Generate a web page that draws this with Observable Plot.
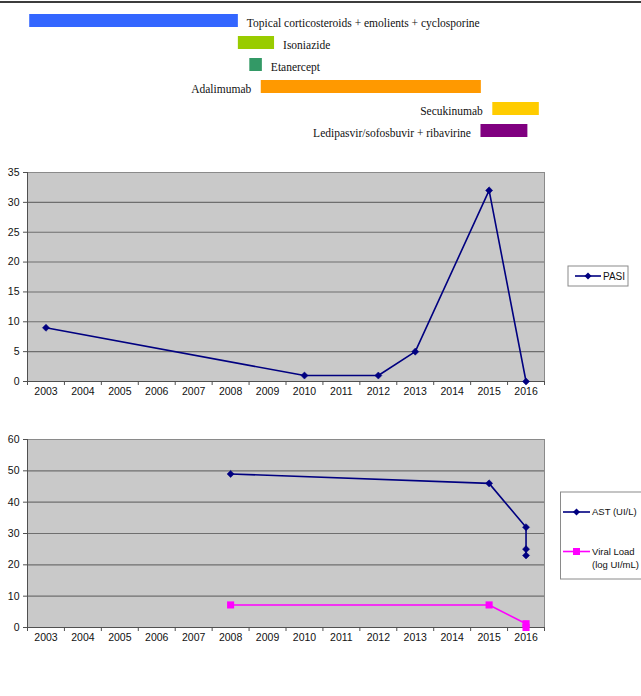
<!DOCTYPE html>
<html><head><meta charset="utf-8">
<script src="https://cdn.jsdelivr.net/npm/d3@7"></script>
<script src="https://cdn.jsdelivr.net/npm/@observablehq/plot@0.6"></script>
<style>
body{margin:0;background:#fff;width:641px;overflow:hidden}
#rule{height:0;border-top:2px solid #3c3c3c;margin-top:1px}
svg{display:block}
</style></head><body>
<div id="rule"></div>
<div id="timeline"></div>
<div id="pasi"></div>
<div id="labs"></div>
<script>
// ---- data ----
const years = [2003,2004,2005,2006,2007,2008,2009,2010,2011,2012,2013,2014,2015,2016];

const treatments = ["Topical corticosteroids + emolients + cyclosporine","Isoniazide","Etanercept","Adalimumab","Secukinumab","Ledipasvir/sofosbuvir + ribavirine"];
const treatStart = [2002.56, 2008.21, 2008.52, 2008.83, 2015.10, 2014.78];
const treatEnd   = [2008.21, 2009.19, 2008.86, 2014.79, 2016.36, 2016.05];
const treatColors = ["#3366ff","#99cc00","#339966","#ff9900","#ffcc00","#800080"];
const labelSide = ["right","right","right","left","left","left"];

const pasiYears  = [2003,2010,2012,2013,2015,2016];
const pasiValues = [9,1,1,5,32,0];
const pasiTicks  = [0,5,10,15,20,25,30,35];

const astYears  = [2008,2015,2016,2016,2016];
const astValues = [49,46,32,25,23];
const vlYears   = [2008,2015,2016,2016];
const vlValues  = [7.2,7.2,1.2,0];
const labTicks  = [0,10,20,30,40,50,60];

// ---- helpers ----
const SANS = "Liberation Sans, Arial, Helvetica, sans-serif";
const SERIF = "Liberation Serif, Times New Roman, serif";
const NAVY = "#000080", MAGENTA = "#ff00ff";
const xDomain = [years[0] - 0.5, years[years.length - 1] + 0.5];
const boundaries = [...years.map(y => y - 0.5), years[years.length - 1] + 0.5];
const common = {width: 641, marginLeft: 27, marginRight: 97,
  style: {fontFamily: SANS, fontSize: "10.5px", color: "#111", background: "white", overflow: "visible"}};

// ---- timeline ----
const tl = treatments.map((name, i) => ({name, start: treatStart[i], end: treatEnd[i], color: treatColors[i], side: labelSide[i]}));
const timeline = Plot.plot({
  ...common, height: 147, marginTop: 0, marginBottom: 0,
  x: {domain: xDomain, axis: null},
  y: {domain: treatments, range: [-0.8, 145.8], padding: 0.43, axis: null},
  color: {type: "identity"},
  marks: [
    Plot.barX(tl, {x1: "start", x2: "end", y: "name", fill: "color"}),
    Plot.text(tl.filter(d => d.side === "right"), {x: "end", y: "name", text: "name", textAnchor: "start", dx: 8.5, dy: 2.5, fontFamily: SERIF, fontSize: 11.5, fill: "#111"}),
    Plot.text(tl.filter(d => d.side === "left"), {x: "start", y: "name", text: "name", textAnchor: "end", dx: -10, dy: 2.5, fontFamily: SERIF, fontSize: 11.5, fill: "#111"})
  ]
});
document.getElementById("timeline").append(timeline);

function baseMarks(ticks) {
  return [
    Plot.frame({fill: "#c9c9c9"}),
    Plot.gridY(ticks, {stroke: "#6e6e6e", strokeOpacity: 1, strokeWidth: 1.1}),
    Plot.frame({stroke: "#8a8a8a"}),
    Plot.ruleX([xDomain[0]], {stroke: "#505050"}),
    Plot.ruleY([0], {stroke: "#505050"}),
    Plot.axisY({ticks, tickSize: 4, tickPadding: 4, label: null, stroke: "#505050"}),
    Plot.axisX({ticks: years, tickSize: 0, tickPadding: 6, tickFormat: d => String(d), label: null}),
    Plot.axisX({ticks: boundaries, tickSize: 4, tickFormat: () => "", label: null, stroke: "#505050"})
  ];
}

// ---- PASI ----
const pasi = pasiYears.map((year, i) => ({year, value: pasiValues[i]}));
const pasiPlot = Plot.plot({
  ...common, height: 270, marginTop: 22, marginBottom: 39,
  x: {domain: xDomain},
  y: {domain: [0, 35]},
  marks: [
    ...baseMarks(pasiTicks),
    Plot.line(pasi, {x: "year", y: "value", stroke: NAVY, strokeWidth: 1.6}),
    Plot.dot(pasi, {x: "year", y: "value", symbol: "diamond2", r: 3.2, fill: NAVY, stroke: NAVY, strokeWidth: 0.5})
  ]
});
document.getElementById("pasi").append(pasiPlot);

// ---- AST / Viral load ----
const ast = astYears.map((year, i) => ({year, value: astValues[i]}));
const vl = vlYears.map((year, i) => ({year, value: vlValues[i]}));
const labPlot = Plot.plot({
  ...common, height: 276, marginTop: 19, marginBottom: 69,
  x: {domain: xDomain},
  y: {domain: [0, 60]},
  marks: [
    ...baseMarks(labTicks),
    Plot.line(vl, {x: "year", y: "value", stroke: MAGENTA, strokeWidth: 1.6}),
    Plot.dot(vl, {x: "year", y: "value", symbol: "square", r: 4, fill: MAGENTA}),
    Plot.line(ast, {x: "year", y: "value", stroke: NAVY, strokeWidth: 1.6}),
    Plot.dot(ast, {x: "year", y: "value", symbol: "diamond2", r: 3.2, fill: NAVY, stroke: NAVY, strokeWidth: 0.5})
  ]
});
document.getElementById("labs").append(labPlot);

// ---- legends ----
function legendBox(svg, x, y, w, h, fontSize, entries) {
  const g = d3.select(svg).append("g").attr("font-family", SANS).attr("font-size", fontSize).attr("text-anchor", "start");
  g.append("rect").attr("x", x).attr("y", y).attr("width", w).attr("height", h)
    .attr("fill", "white").attr("stroke", "#8a8a8a");
  for (const e of entries) {
    g.append("line").attr("x1", e.x1).attr("x2", e.x2).attr("y1", e.y).attr("y2", e.y)
      .attr("stroke", e.color).attr("stroke-width", 1.6);
    const mx = (e.x1 + e.x2) / 2;
    if (e.marker === "diamond") {
      g.append("rect").attr("x", mx - 2.5).attr("y", e.y - 2.5).attr("width", 5).attr("height", 5)
        .attr("fill", e.color).attr("transform", `rotate(45 ${mx} ${e.y})`);
    } else {
      g.append("rect").attr("x", mx - 3.5).attr("y", e.y - 3.5).attr("width", 7).attr("height", 7).attr("fill", e.color);
    }
    e.lines.forEach((t, k) => {
      g.append("text").attr("x", e.x2 + 2).attr("y", e.y + k * 13).attr("dy", "0.35em")
        .attr("text-anchor", "start").attr("fill", "#111").text(t);
    });
  }
}
legendBox(pasiPlot, 568, 116, 60, 20, "10px", [
  {x1: 575, x2: 601, y: 126, color: NAVY, marker: "diamond", lines: ["PASI"]}
]);
legendBox(labPlot, 560.5, 72, 90, 87, "9.5px", [
  {x1: 563, x2: 590, y: 92, color: NAVY, marker: "diamond", lines: ["AST (UI/L)"]},
  {x1: 563, x2: 590, y: 131.5, color: MAGENTA, marker: "square", lines: ["Viral Load", "(log UI/mL)"]}
]);
</script>
</body></html>
